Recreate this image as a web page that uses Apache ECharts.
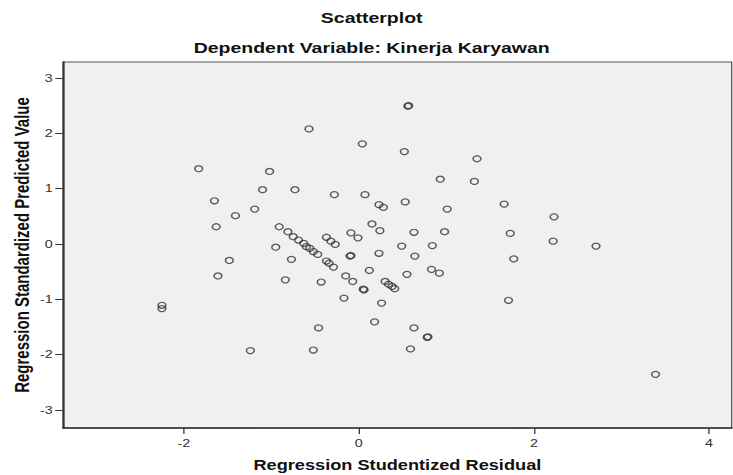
<!DOCTYPE html>
<html>
<head>
<meta charset="utf-8">
<script src="https://cdn.jsdelivr.net/npm/echarts@6/dist/echarts.min.js"></script>
<style>
  html, body { margin: 0; padding: 0; background: #ffffff; overflow: hidden; }
  /* the chart is laid out on a narrower canvas and stretched horizontally */
  #chart { width: 564px; height: 475px; transform: scaleX(1.2996); transform-origin: 0 0; }
</style>
</head>
<body>
<div id="chart"></div>
<script>
// Regression residual plot: studentized residual (x) vs standardized predicted value (y)
const residual = [
  -1.83, -1.02, -1.10, -1.65, -1.19, -1.41, -1.63, -0.91, -0.81, -0.95,
  -0.73, 0.56, 0.57, -0.57, 0.04, 0.52, 1.35, 0.93, 1.32, -0.28,
  0.07, 0.23, 0.28, 0.53, 1.01, 1.66, 0.15, 0.24, 0.63, 0.98,
  1.73, -0.09, -0.01, -0.37, -0.32, -0.27, 0.49, 0.84, -0.75, -0.69,
  -0.63, -0.60, -0.56, -0.52, -0.47, 2.23, 2.22, 2.71, 1.77, 1.71,
  3.39, -1.48, -1.61, -0.84, -0.77, -2.25, -2.25, -1.24, -0.10, -0.09,
  0.23, 0.64, -0.43, -0.15, -0.07, 0.12, 0.05, 0.06, 0.30, 0.34,
  0.38, 0.41, 0.55, 0.83, 0.92, -0.17, 0.26, 0.18, -0.46, 0.63,
  0.78, 0.79, -0.52, 0.59, -0.37, -0.34, -0.29
];
const predicted = [
  1.36, 1.31, 0.98, 0.78, 0.63, 0.51, 0.31, 0.31, 0.22, -0.06,
  0.98, 2.49, 2.50, 2.08, 1.81, 1.67, 1.54, 1.17, 1.13, 0.89,
  0.89, 0.71, 0.66, 0.76, 0.63, 0.72, 0.36, 0.24, 0.21, 0.22,
  0.19, 0.20, 0.11, 0.12, 0.05, -0.01, -0.04, -0.03, 0.13, 0.07,
  0.01, -0.05, -0.08, -0.14, -0.19, 0.49, 0.05, -0.04, -0.27, -1.02,
  -2.36, -0.30, -0.58, -0.65, -0.28, -1.11, -1.17, -1.93, -0.22, -0.21,
  -0.17, -0.22, -0.69, -0.58, -0.68, -0.48, -0.82, -0.83, -0.68, -0.73,
  -0.77, -0.81, -0.55, -0.46, -0.53, -0.98, -1.07, -1.41, -1.52, -1.52,
  -1.69, -1.68, -1.92, -1.90, -0.31, -0.35, -0.42
];
const xTicks = [-2, 0, 2, 4];
const yTicks = [-3, -2, -1, 0, 1, 2, 3];

const chartTitle = 'Scatterplot';
const chartSubtitle = 'Dependent Variable: Kinerja Karyawan';
const xName = 'Regression Studentized Residual';
const yName = 'Regression Standardized Predicted Value';

const points = residual.map((r, i) => [r, predicted[i]]);

const font = '"Liberation Sans", Arial, sans-serif';
const chart = echarts.init(document.getElementById('chart'), null, { renderer: 'svg' });

chart.setOption({
  animation: false,
  backgroundColor: '#ffffff',
  grid: {
    left: 48.5, right: 1, top: 62, bottom: 47,
    outerBoundsMode: 'none',
    containLabel: false,
    show: true,
    backgroundColor: '#f0f0f0',
    borderColor: '#555555',
    borderWidth: 1
  },
  graphic: [
    {
      type: 'text', x: 286, y: 18,
      style: { text: chartTitle, font: 'bold 15px ' + font, fill: '#111111',
               textAlign: 'center', textVerticalAlign: 'middle' }
    },
    {
      type: 'text', x: 286, y: 48,
      style: { text: chartSubtitle, font: 'bold 15px ' + font, fill: '#111111',
               textAlign: 'center', textVerticalAlign: 'middle' }
    }
  ],
  xAxis: {
    type: 'value',
    min: -3.38, max: 4.26,
    name: xName,
    nameLocation: 'middle',
    nameGap: 30,
    nameMoveOverlap: false,
    nameTextStyle: { fontFamily: font, fontSize: 14, fontWeight: 'bold', color: '#111111' },
    splitLine: { show: false },
    axisLine: { show: true, onZero: false, lineStyle: { color: '#333333', width: 1.5 } },
    axisTick: { show: true, length: 6, customValues: xTicks, lineStyle: { color: '#333333', width: 1 } },
    axisLabel: { customValues: xTicks, margin: 10, fontFamily: font, fontSize: 11, color: '#333333' }
  },
  yAxis: {
    type: 'value',
    min: -3.33, max: 3.29,
    name: yName,
    nameLocation: 'middle',
    nameGap: 24,
    nameMoveOverlap: false,
    nameTextStyle: { fontFamily: font, fontSize: 15, fontWeight: 'bold', color: '#111111' },
    splitLine: { show: false },
    axisLine: { show: true, onZero: false, lineStyle: { color: '#333333', width: 1.5 } },
    axisTick: { show: true, length: 6, customValues: yTicks, lineStyle: { color: '#333333', width: 1 } },
    axisLabel: { customValues: yTicks, margin: 8, fontFamily: font, fontSize: 11, color: '#333333' }
  },
  series: [{
    type: 'scatter',
    data: points,
    symbol: 'circle',
    symbolSize: 6,
    itemStyle: { color: 'rgba(0,0,0,0)', borderColor: '#333333', borderWidth: 1.2 }
  }]
});
</script>
</body>
</html>
